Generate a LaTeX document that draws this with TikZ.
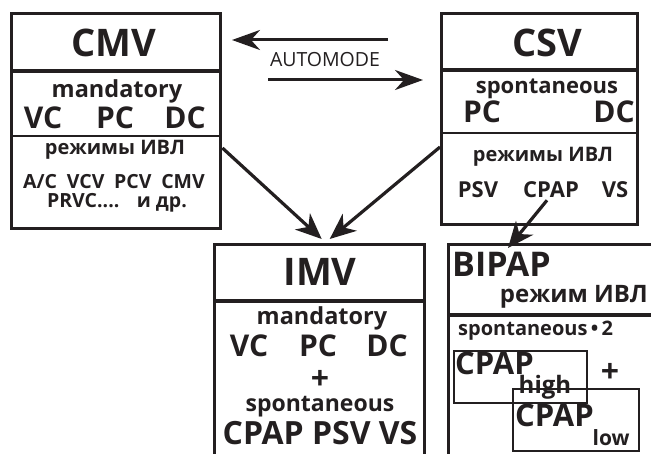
\documentclass[tikz,border=0pt]{standalone}
\usepackage{fontspec}
\setmainfont{Open Sans}
\usetikzlibrary{arrows.meta}
\definecolor{ink}{RGB}{35,31,32}
\begin{document}
\begin{tikzpicture}[x=1pt,y=-1pt,
  box/.style={draw=ink, line width=3.4pt, inner sep=0, anchor=north west},
  rule/.style={draw=ink, line width=3.2pt},
  thinrule/.style={draw=ink, line width=1.6pt},
  inbox/.style={draw=ink, line width=1.6pt, inner sep=0, anchor=north west},
  arr/.style={draw=ink, line width=3.2pt, -{Stealth[length=26pt,width=22pt,inset=8pt]}},
  autoarr/.style={draw=ink, line width=3pt, -{Stealth[length=28pt,width=20pt,inset=9pt]}},
  txt/.style={text=ink, inner sep=0, font=\bfseries\fontsize{#1pt}{#1pt}\selectfont},
  plain/.style={text=ink, inner sep=0, font=\fontsize{#1pt}{#1pt}\selectfont},
  plus/.style={txt=#1, text height=0.55em, text depth=0pt, anchor=base}
]
\useasboundingbox (0,0) rectangle (651,454);
\clip (0,0) rectangle (651,454);

% ---- boxes ----
\node[box, minimum width=209pt, minimum height=215pt] (cmv) at (10,12) {};
\node[box, minimum width=196pt, minimum height=211pt] (csv) at (440,12) {};
\node[box, minimum width=210pt, minimum height=240pt] (imv) at (213,243) {};
\node[box, minimum width=230pt, minimum height=240pt] (bipap) at (447,243) {};

% section rules
\draw[rule] (cmv.west |- 0,71) -- (cmv.east |- 0,71);
\draw[thinrule] (cmv.west |- 0,136) -- (cmv.east |- 0,136);
\draw[rule] (csv.west |- 0,70) -- (csv.east |- 0,70);
\draw[thinrule] (csv.west |- 0,133) -- (csv.east |- 0,133);
\draw[rule] (imv.west |- 0,301) -- (imv.east |- 0,301);
\draw[rule] (bipap.west |- 0,315) -- (bipap.east |- 0,315);

% ---- CMV ----
\node[txt=38] (cmvT) at (114,43) {CMV};
\node[txt=23.5] (cmvM) at (117,91) {mandatory};
\node[txt=30] (cmvVC) at (43,118) {VC};
\node[txt=30] (cmvPC) at (115,118) {PC};
\node[txt=30] (cmvDC) at (185,118) {DC};
\node[txt=20] (cmvR) at (115,150) {режимы ИВЛ};
\node[txt=19.5, anchor=base] (cmvL1) at (114,189) {A/C\hspace{0.5em}VCV\hspace{0.5em}PCV\hspace{0.5em}CMV};
\node[txt=19.5, anchor=base] (cmvL2) at (117,208) {PRVC....\hspace{0.9em}и др.};

% ---- CSV ----
\node[txt=38] (csvT) at (547,43) {CSV};
\node[txt=22] (csvS) at (547,89) {spontaneous};
\node[txt=30] (csvPC) at (482,112) {PC};
\node[txt=30] (csvDC) at (614,112) {DC};
\node[txt=20] (csvR) at (543,157) {режимы ИВЛ};
\node[txt=22] (csvPSV) at (478,190) {PSV};
\node[txt=22] (csvCPAP) at (551,190) {CPAP};
\node[txt=22] (csvVS) at (615,190) {VS};

% ---- IMV ----
\node[txt=38] (imvT) at (320,272) {IMV};
\node[txt=23.5] (imvM) at (322,318) {mandatory};
\node[txt=30] (imvVC) at (249,346) {VC};
\node[txt=30] (imvPC) at (318,346) {PC};
\node[txt=30] (imvDC) at (387,346) {DC};
\node[plus=32] (imvP) at (320,389) {+};
\node[txt=23] (imvS) at (320,407) {spontaneous};
\node[txt=32] (imvL) at (320,433) {CPAP PSV VS};

% ---- BIPAP ----
\node[txt=34, anchor=west] (bipT) at (452,264) {BIPAP};
\node[txt=24, anchor=east] (bipR) at (648,297) {режим ИВЛ};
\node[txt=20, anchor=west] (bipS) at (458,331) {spontaneous\,•\,2};
\node[inbox, minimum width=133pt, minimum height=52pt] (hi) at (453,350) {};
\node[inbox, minimum width=126pt, minimum height=62pt] (lo) at (512,388) {};
\node[txt=31, anchor=base west] (hiT) at (455,375) {CPAP\kern-15pt\raisebox{-19pt}{\fontsize{24pt}{24pt}\selectfont high}};
\node[txt=31, anchor=base west] (loT) at (515,427) {CPAP\kern-1pt\raisebox{-18pt}{\fontsize{21pt}{21pt}\selectfont low}};
\node[plus=32] (bipP) at (610,383) {+};

% ---- AUTOMODE switch ----
\node[plain=19.5] (auto) at (325,60) {AUTOMODE};
\coordinate (aL1) at (232,40);
\coordinate (aR1) at (388,40);
\coordinate (aL2) at (268,80);
\coordinate (aR2) at (423,80);
\draw[autoarr] (aR1) -- (aL1);
\draw[autoarr] (aL2) -- (aR2);

% ---- transitions ----
\draw[arr] (cmv.east |- 0,148) -- ([xshift=2pt,yshift=4pt]imv.north);
\draw[arr] (csv.west |- 0,147) -- ([xshift=10pt,yshift=4pt]imv.north);
\draw[arr] ([xshift=-4pt,yshift=-2pt]csvCPAP.south) -- (508,248);
\end{tikzpicture}
\end{document}
